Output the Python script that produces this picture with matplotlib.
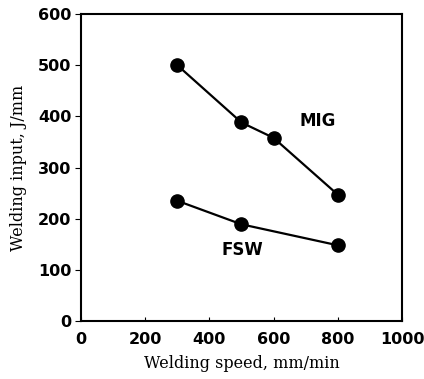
import matplotlib
matplotlib.use("Agg")
import matplotlib.pyplot as plt

# welding speed (mm/min) vs heat input (J/mm)
mig_speed = [300, 500, 600, 800]
mig_input = [500, 388, 358, 247]
fsw_speed = [300, 500, 800]
fsw_input = [235, 189, 148]

x_ticks = [0, 200, 400, 600, 800, 1000]
y_ticks = [0, 100, 200, 300, 400, 500, 600]

fig = plt.figure(figsize=(4.24, 3.79), dpi=100)
ax = fig.add_axes([0.191, 0.153, 0.757, 0.81])

for xs, ys in ((mig_speed, mig_input), (fsw_speed, fsw_input)):
    ax.plot(xs, ys, color="black", linewidth=1.6, marker="o",
            markersize=9.5, markerfacecolor="black", markeredgecolor="black")

ax.text(737, 391, "MIG", fontsize=12, fontweight="bold", ha="center",
        va="center", family="DejaVu Sans")
ax.text(503, 139, "FSW", fontsize=12, fontweight="bold", ha="center",
        va="center", family="DejaVu Sans")

ax.set_xlim(0, 1000)
ax.set_ylim(0, 600)
ax.set_xticks(x_ticks)
ax.set_yticks(y_ticks)
ax.tick_params(axis="x", direction="in", length=3, width=0.8, pad=8)
ax.tick_params(axis="y", direction="out", length=4, width=0.8, pad=3)
for lab in ax.get_xticklabels() + ax.get_yticklabels():
    lab.set_fontfamily("DejaVu Sans")
    lab.set_fontweight("bold")
    lab.set_fontsize(11.5)
for s in ax.spines.values():
    s.set_linewidth(1.5)

ax.set_xlabel("Welding speed, mm/min", family="DejaVu Serif",
              fontsize=11.5, labelpad=6)
ax.set_ylabel("Welding input, J/mm", family="DejaVu Serif",
              fontsize=11.5, labelpad=8)

fig.savefig("out.png", dpi=100)
